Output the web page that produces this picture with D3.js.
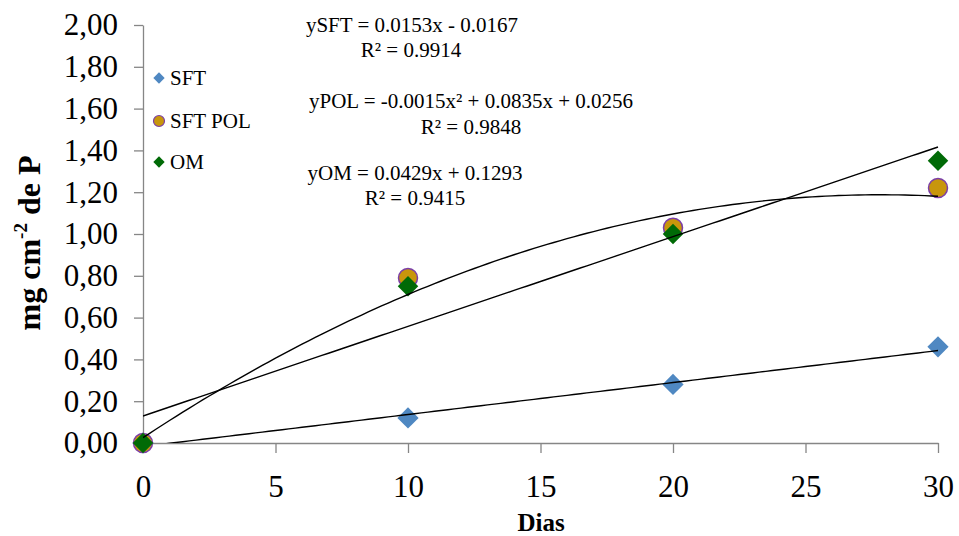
<!DOCTYPE html>
<html><head><meta charset="utf-8">
<script src="https://cdn.jsdelivr.net/npm/d3@7"></script>
<style>body{margin:0;background:#fff}svg{display:block}text{font-family:"Liberation Serif","Times New Roman",serif}</style>
</head><body><svg id="c" width="959" height="536"></svg>
<script>
const days = [0, 10, 20, 30];
const sft = [0, 0.12, 0.28, 0.46];
const sftPol = [0, 0.79, 1.03, 1.22];
const om = [0, 0.75, 1.00, 1.35];
const xTicks = [0, 5, 10, 15, 20, 25, 30];
const yTicks = [0, 0.2, 0.4, 0.6, 0.8, 1.0, 1.2, 1.4, 1.6, 1.8, 2.0];
// trendline coefficients [a2, a1, a0] as printed
const fitSft = [0, 0.0153, -0.0167];
const fitPol = [-0.0015, 0.0835, 0.0256];
const fitOm = [0, 0.0429, 0.1293];
const eqLines = ["ySFT = 0.0153x - 0.0167", "R² = 0.9914", "yPOL = -0.0015x² + 0.0835x + 0.0256", "R² = 0.9848", "yOM = 0.0429x + 0.1293", "R² = 0.9415"];
const legendNames = ["SFT", "SFT POL", "OM"];

const svg = d3.select("#c");
const L = 143, R = 938, T = 25, B = 443;
const x = d3.scaleLinear().domain([0, 30]).range([L, R]);
const y = d3.scaleLinear().domain([0, 2]).range([B, T]);
const axisCol = "#868686";

const fmt = v => d3.format(".2f")(v).replace(".", ",");
const gy = svg.append("g").attr("transform", `translate(${L},0)`)
  .call(d3.axisLeft(y).tickValues(yTicks).tickFormat(fmt).tickSize(9).tickSizeOuter(0).tickPadding(16));
gy.select(".domain").attr("stroke", axisCol).attr("stroke-width", 1.3);
gy.selectAll(".tick line").attr("stroke", axisCol).attr("stroke-width", 1.3);
gy.selectAll(".tick text").attr("font-size", 31).attr("fill", "#000").attr("font-family", "Liberation Serif");

const gx = svg.append("g").attr("transform", `translate(0,${B})`)
  .call(d3.axisBottom(x).tickValues(xTicks).tickFormat(d3.format("d")).tickSize(10).tickSizeOuter(0).tickPadding(22));
gx.select(".domain").attr("stroke", axisCol).attr("stroke-width", 1.3);
gx.selectAll(".tick line").attr("stroke", axisCol).attr("stroke-width", 1.3);
gx.selectAll(".tick text").attr("font-size", 31).attr("fill", "#000").attr("font-family", "Liberation Serif");

svg.append("text").attr("x", 541).attr("y", 531).attr("text-anchor", "middle")
  .attr("font-size", 25).attr("font-weight", "bold").text("Dias");
const yl = svg.append("text").attr("transform", "translate(40,243) rotate(-90)").attr("text-anchor", "middle")
  .attr("font-size", 32).attr("font-weight", "bold");
yl.append("tspan").text("mg cm");
yl.append("tspan").attr("font-size", 19).attr("dy", -13).text("-2");
yl.append("tspan").attr("dy", 13).text(" de P");

const SFTc = "#4F88C2", POLc = "#C8960C", POLs = "#7B3FA8", OMc = "#006A06";

// markers
const pts = svg.append("g");
pts.selectAll(".sft").data(days).join("path")
  .attr("d", d3.symbol().type(d3.symbolSquare).size(15*15))
  .attr("transform", (d,i)=>`translate(${x(d)},${y(sft[i])}) rotate(45)`)
  .attr("fill", SFTc);
pts.selectAll(".pol").data(days).join("circle")
  .attr("cx", d => x(d)).attr("cy", (d,i) => y(sftPol[i])).attr("r", 9.5)
  .attr("fill", POLc).attr("stroke", POLs).attr("stroke-width", 1.5);
pts.selectAll(".om").data(days).join("path")
  .attr("d", d3.symbol().type(d3.symbolSquare).size(14.5*14.5))
  .attr("transform", (d,i)=>`translate(${x(d)},${y(om[i])}) rotate(45)`)
  .attr("fill", OMc);

// trendlines
svg.append("clipPath").attr("id", "pc").append("rect").attr("x", L).attr("y", T-5).attr("width", R-L+2).attr("height", B-T+5);
const xs = d3.range(0, 30.01, 0.25);
const line = d3.line().x(d => x(d[0])).y(d => y(d[1]));
[fitSft, fitPol, fitOm].forEach(c => {
  svg.append("path").attr("clip-path", "url(#pc)")
    .attr("d", line(xs.map(v => [v, c[0]*v*v + c[1]*v + c[2]])))
    .attr("fill", "none").attr("stroke", "#000").attr("stroke-width", 1.4);
});

// equations
const eqPos = [[412,32],[411,57],[471,108],[471,134],[415,180],[415,205]];
eqLines.forEach((t,i) => {
  svg.append("text").attr("x", eqPos[i][0]).attr("y", eqPos[i][1]).attr("text-anchor", "middle")
    .attr("font-size", 21).text(t);
});

// legend
const lg = svg.append("g");
const lgY = [78, 121, 162];
lg.append("path").attr("d", d3.symbol().type(d3.symbolSquare).size(64)).attr("transform", `translate(159,${lgY[0]}) rotate(45)`).attr("fill", SFTc);
lg.append("circle").attr("cx", 159).attr("cy", lgY[1]).attr("r", 5.5).attr("fill", POLc).attr("stroke", POLs).attr("stroke-width", 1.2);
lg.append("path").attr("d", d3.symbol().type(d3.symbolSquare).size(64)).attr("transform", `translate(159,${lgY[2]}) rotate(45)`).attr("fill", OMc);
legendNames.forEach((n,i) => {
  lg.append("text").attr("x", 170).attr("y", lgY[i] + 7).attr("font-size", 21).text(n);
});
</script></body></html>
